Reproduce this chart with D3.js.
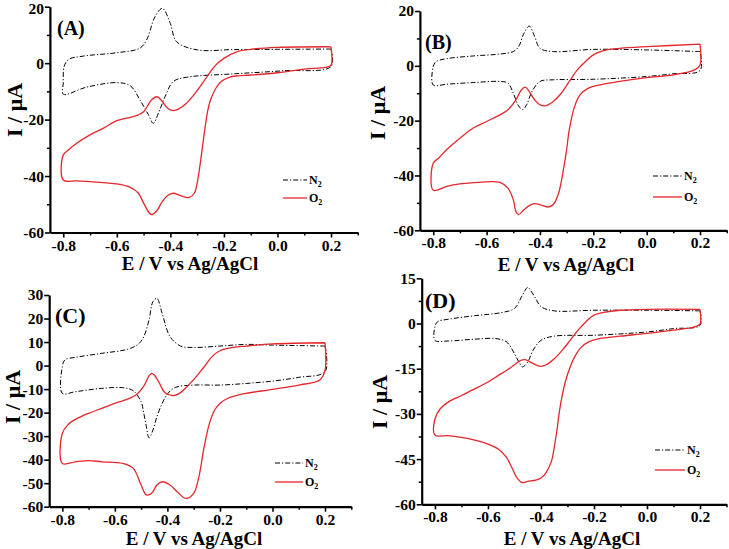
<!DOCTYPE html>
<html>
<head>
<meta charset="utf-8">
<script src="https://cdn.jsdelivr.net/npm/d3@7"></script>
<style>
  html, body { margin: 0; padding: 0; background: #fff; }
  svg { display: block; }
  text { font-family: "Liberation Serif", "Times New Roman", serif; font-weight: bold; fill: #000; }
</style>
</head>
<body>
<svg id="chart" width="729" height="549"></svg>
<script>
// ---------------- DATA ----------------
const xTicks = [-0.8, -0.6, -0.4, -0.2, 0.0, 0.2];
const xMinorTicks = [-0.7, -0.5, -0.3, -0.1, 0.1, 0.3];
const yTicksAB = [20, 0, -20, -40, -60];
const yMinorAB = [10, -10, -30, -50];
const yTicksC = [30, 20, 10, 0, -10, -20, -30, -40, -50, -60];
const yMinorC = [];
const yTicksD = [15, 0, -15, -30, -45, -60];
const yMinorD = [7.5, -7.5, -22.5, -37.5, -52.5];
const seriesNames = ["N2", "O2"];
const panelLabels = ["(A)", "(B)", "(C)", "(D)"];

// Panel A
const aN2 = [[0.2,5.0],[0.0,4.9],[-0.165,4.8],[-0.3,4.7],[-0.377,7.6],[-0.40,14],[-0.43,19.4],[-0.457,16.5],[-0.489,8.2],[-0.514,5.3],[-0.6,3.7],[-0.725,2.5],[-0.78,1.3],[-0.797,-1.2],[-0.8,-7],[-0.8,-11],
  [-0.713,-8.5],[-0.6,-6.9],[-0.55,-8],[-0.514,-13],[-0.482,-18.3],[-0.464,-21.3],[-0.445,-17.8],[-0.42,-11.9],[-0.389,-6.5],[-0.339,-5],[-0.165,-3.8],[0.022,-2.7],[0.2,-1.2],[0.2,5.0]];
const aO2 = [[0.2,5.8],[0.0,5.6],[-0.1,4.9],[-0.15,4.1],[-0.2,1.7],[-0.23,-0.6],[-0.25,-3],[-0.28,-7.1],[-0.31,-11],[-0.34,-14.2],[-0.37,-16.3],[-0.39,-16.8],[-0.41,-16],[-0.43,-13.6],[-0.45,-11.9],[-0.47,-13],[-0.5,-17.2],[-0.52,-18.3],[-0.55,-19.2],[-0.6,-20.4],[-0.65,-23],[-0.7,-25.4],[-0.75,-28.4],[-0.78,-30.7],[-0.8,-32.5],[-0.8,-41.4],
  [-0.75,-41.7],[-0.7,-42],[-0.6,-42.8],[-0.55,-44],[-0.52,-46],[-0.5,-49.6],[-0.48,-52.9],[-0.47,-53.7],[-0.45,-52.2],[-0.43,-49],[-0.41,-46.9],[-0.39,-46.1],[-0.36,-47],[-0.33,-47.6],[-0.31,-46],[-0.3,-42.5],[-0.29,-36.6],[-0.28,-29.5],[-0.27,-22.5],[-0.26,-16.6],[-0.25,-13],[-0.23,-8.9],[-0.21,-6.5],[-0.18,-5],[-0.15,-4.5],[-0.1,-4.2],[0.0,-3.4],[0.1,-2.1],[0.18,-1.5],[0.2,-0.7],[0.2,5.8]];

// Panel B
const bN2 = [[0.2,5.2],[0.0,5.8],[-0.2,6.0],[-0.35,5.2],[-0.4,6.4],[-0.42,10.7],[-0.44,14.5],[-0.46,11.9],[-0.48,7],[-0.5,5.2],[-0.55,4.3],[-0.65,3.6],[-0.75,2.6],[-0.79,1.5],[-0.8,-0.3],[-0.8,-7],
  [-0.75,-6.7],[-0.65,-6.1],[-0.55,-5.7],[-0.52,-6.3],[-0.5,-10],[-0.48,-14.6],[-0.465,-16],[-0.45,-14.2],[-0.43,-9.4],[-0.4,-5.7],[-0.35,-5.1],[-0.2,-4.9],[0.0,-3.9],[0.1,-2.9],[0.2,-1.7],[0.2,5.2]];
const bO2 = [[0.2,7.9],[0.0,7.0],[-0.1,6.4],[-0.15,5.8],[-0.2,4.0],[-0.23,1.5],[-0.26,-1.5],[-0.29,-5.7],[-0.32,-10],[-0.35,-13],[-0.38,-14.6],[-0.4,-14.2],[-0.42,-12.4],[-0.44,-9.4],[-0.455,-7.8],[-0.47,-8.8],[-0.49,-12.4],[-0.52,-16],[-0.55,-17.9],[-0.6,-20.3],[-0.65,-22.7],[-0.7,-26.4],[-0.75,-30.6],[-0.78,-33.7],[-0.8,-35.5],[-0.8,-45.4],
  [-0.75,-44],[-0.7,-43.1],[-0.6,-42.3],[-0.55,-42.5],[-0.52,-44.6],[-0.5,-48.8],[-0.49,-53.2],[-0.48,-54.3],[-0.46,-52.5],[-0.44,-51],[-0.42,-50.3],[-0.40,-50.6],[-0.37,-51.5],[-0.35,-50.6],[-0.33,-46.4],[-0.31,-36.7],[-0.3,-30.6],[-0.29,-23.3],[-0.27,-14.8],[-0.25,-10.6],[-0.22,-8.2],[-0.18,-7],[-0.1,-5.7],[0.0,-4.3],[0.1,-3.3],[0.18,-1.5],[0.2,0.3],[0.2,7.9]];

// Panel C
const cN2 = [[0.2,8.3],[0.0,8.7],[-0.1,9.0],[-0.2,8.3],[-0.3,7.7],[-0.35,8.3],[-0.39,12.3],[-0.42,22.2],[-0.44,28.6],[-0.455,27.2],[-0.47,19.4],[-0.49,12.3],[-0.51,9.2],[-0.55,7],[-0.65,5.2],[-0.75,3.5],[-0.79,2.4],[-0.8,-0.5],[-0.8,-11.8],
  [-0.75,-11.1],[-0.65,-9.7],[-0.57,-9.4],[-0.53,-10.7],[-0.5,-15.4],[-0.49,-20.3],[-0.48,-26],[-0.47,-30.7],[-0.455,-27.4],[-0.44,-21.7],[-0.42,-16.1],[-0.4,-12.1],[-0.37,-9.3],[-0.3,-8.3],[-0.2,-8.3],[-0.1,-7.6],[0.0,-6.6],[0.1,-5],[0.2,-2.6],[0.2,8.3]];
const cO2 = [[0.2,9.7],[0.0,9.2],[-0.1,8.3],[-0.15,7.7],[-0.2,6.3],[-0.23,3.8],[-0.26,-0.5],[-0.29,-4.7],[-0.32,-8.3],[-0.35,-11.5],[-0.38,-12.8],[-0.41,-11.5],[-0.43,-7.6],[-0.45,-4],[-0.46,-3.3],[-0.47,-4.4],[-0.49,-8.7],[-0.52,-12.5],[-0.56,-14.6],[-0.6,-16.1],[-0.65,-18.2],[-0.7,-20.3],[-0.75,-22.9],[-0.78,-25.3],[-0.8,-28.8],[-0.8,-41.6],
  [-0.75,-40.9],[-0.7,-40.4],[-0.65,-40.9],[-0.57,-41.6],[-0.53,-43.7],[-0.5,-50.8],[-0.48,-55],[-0.46,-54.3],[-0.44,-50.8],[-0.42,-49.4],[-0.39,-50.8],[-0.36,-54],[-0.33,-56.5],[-0.3,-54.3],[-0.28,-47.2],[-0.26,-34.5],[-0.24,-24.6],[-0.22,-18.9],[-0.2,-16.1],[-0.17,-13.9],[-0.13,-12.5],[-0.1,-11.8],[0.0,-10.1],[0.1,-8.3],[0.18,-6.1],[0.2,-1.9],[0.2,9.7]];

// Panel D
const dN2 = [[0.2,4.2],[0.0,4.4],[-0.2,4.4],[-0.35,4.2],[-0.4,5.6],[-0.42,8.3],[-0.44,11.1],[-0.45,12],[-0.47,9.4],[-0.5,5],[-0.55,3.6],[-0.65,2.6],[-0.75,1.4],[-0.79,0.6],[-0.8,-1.1],[-0.8,-5.6],
  [-0.75,-5.8],[-0.65,-5.2],[-0.57,-5],[-0.53,-6.1],[-0.5,-10],[-0.48,-13.3],[-0.47,-14.4],[-0.45,-12.8],[-0.43,-8.9],[-0.4,-5.6],[-0.35,-4.2],[-0.2,-3.9],[0.0,-2.8],[0.1,-1.7],[0.2,-0.6],[0.2,4.2]];
const dO2 = [[0.2,4.7],[0.0,4.7],[-0.1,4.4],[-0.15,3.9],[-0.2,2.8],[-0.23,0.6],[-0.26,-2.2],[-0.29,-5.6],[-0.32,-8.9],[-0.35,-11.7],[-0.38,-13.7],[-0.4,-14.2],[-0.42,-13.7],[-0.44,-12.8],[-0.46,-12],[-0.48,-12.4],[-0.5,-13.7],[-0.53,-15.6],[-0.56,-17.2],[-0.6,-19.4],[-0.65,-21.7],[-0.7,-23.9],[-0.75,-26.1],[-0.78,-28.3],[-0.8,-31.7],[-0.8,-37],
  [-0.75,-37.2],[-0.7,-37.8],[-0.65,-38.7],[-0.6,-40],[-0.56,-41.7],[-0.53,-44.4],[-0.51,-47.8],[-0.49,-51.3],[-0.47,-52.8],[-0.45,-52.4],[-0.42,-52],[-0.4,-51.3],[-0.38,-49.4],[-0.36,-45.6],[-0.35,-41.1],[-0.34,-35.6],[-0.33,-28.9],[-0.31,-20],[-0.29,-14.4],[-0.27,-10.6],[-0.25,-8],[-0.22,-6.1],[-0.18,-5],[-0.1,-4.2],[0.0,-3.3],[0.1,-2.2],[0.18,-1.1],[0.2,-0.2],[0.2,4.7]];

// ---------------- LAYOUT ----------------
const panels = [
  { label: panelLabels[0], n2: aN2, o2: aO2, yDom: [-60, 20], yT: yTicksAB, yM: yMinorAB,
    xr: [49.9, 357.8], yr: [232.5, 6.7], lab: [57, 35, 18], yTitle: [15, 110], xTitle: [190, 270],
    leg: [283, 307, 180, 198] },
  { label: panelLabels[1], n2: bN2, o2: bO2, yDom: [-60, 20], yT: yTicksAB, yM: yMinorAB,
    xr: [419.9, 726.7], yr: [230.3, 11], lab: [425, 49, 18], yTitle: [378, 113], xTitle: [566, 271],
    leg: [653, 682, 176, 197] },
  { label: panelLabels[2], n2: cN2, o2: cO2, yDom: [-60, 30], yT: yTicksC, yM: yMinorC,
    xr: [49.2, 351.3], yr: [506.7, 295], lab: [55, 323, 20], yTitle: [13, 397], xTitle: [194, 545],
    leg: [275, 303, 463, 482] },
  { label: panelLabels[3], n2: dN2, o2: dO2, yDom: [-60, 15], yT: yTicksD, yM: yMinorD,
    xr: [421.7, 726.5], yr: [504.3, 278.3], lab: [425, 308, 20], yTitle: [380, 402], xTitle: [572, 545],
    leg: [655, 685, 450, 470] }
];

const RED = "#e5262b";
const svg = d3.select("#chart");
const fmtX = d => d.toFixed(1);
const fmtY = d => String(d);

panels.forEach(p => {
  const x = d3.scaleLinear().domain([-0.85, 0.3]).range(p.xr);
  const y = d3.scaleLinear().domain(p.yDom).range(p.yr);
  const g = svg.append("g");
  const y0 = p.yr[0], x0 = p.xr[0];

  // minor ticks
  g.append("g").attr("transform", `translate(0,${y0})`)
    .call(d3.axisBottom(x).tickValues(xMinorTicks).tickSize(3).tickSizeOuter(0).tickFormat(""))
    .call(s => s.select(".domain").remove())
    .call(s => s.selectAll("line").attr("stroke-width", 1.5));
  g.append("g").attr("transform", `translate(${x0},0)`)
    .call(d3.axisLeft(y).tickValues(p.yM).tickSize(3).tickSizeOuter(0).tickFormat(""))
    .call(s => s.select(".domain").remove())
    .call(s => s.selectAll("line").attr("stroke-width", 1.5));

  // major axes
  const xa = g.append("g").attr("transform", `translate(0,${y0})`)
    .call(d3.axisBottom(x).tickValues(xTicks).tickSize(5).tickSizeOuter(0).tickPadding(2).tickFormat(fmtX));
  const ya = g.append("g").attr("transform", `translate(${x0},0)`)
    .call(d3.axisLeft(y).tickValues(p.yT).tickSize(5).tickSizeOuter(0).tickPadding(1).tickFormat(fmtY));
  [xa, ya].forEach(a => {
    a.select(".domain").attr("stroke-width", 2.2).attr("stroke", "#000");
    a.selectAll(".tick line").attr("stroke-width", 1.6).attr("stroke", "#000");
    a.selectAll(".tick text").attr("font-family", "Liberation Serif, serif")
      .attr("font-weight", "bold").attr("font-size", 15.5).attr("fill", "#000");
  });
  // keep a top tick label inside the picture
  ya.selectAll(".tick").filter(d => y(d) < 10).select("text").attr("dy", "0.45em");

  // curves
  const line = d3.line().x(d => x(d[0])).y(d => y(d[1])).curve(d3.curveCatmullRom.alpha(0.5));
  g.append("path").datum(p.n2).attr("d", line).attr("fill", "none")
    .attr("stroke", "#000").attr("stroke-width", 1).attr("stroke-dasharray", "5,2,1.2,2");
  g.append("path").datum(p.o2).attr("d", line).attr("fill", "none")
    .attr("stroke", RED).attr("stroke-width", 1.3);

  // panel label
  g.append("text").attr("x", p.lab[0]).attr("y", p.lab[1]).attr("font-size", p.lab[2] + 2).text(p.label);

  // axis titles
  g.append("text").attr("x", p.xTitle[0]).attr("y", p.xTitle[1]).attr("text-anchor", "middle")
    .attr("font-size", 19).text("E / V vs Ag/AgCl");
  g.append("text").attr("transform", `translate(${p.yTitle[0] + 7},${p.yTitle[1]}) rotate(-90)`)
    .attr("text-anchor", "middle").attr("font-size", 22).text("I / μA");

  // legend
  const L = p.leg;
  g.append("line").attr("x1", L[0]).attr("x2", L[1]).attr("y1", L[2]).attr("y2", L[2])
    .attr("stroke", "#000").attr("stroke-width", 1).attr("stroke-dasharray", "5,2,1.2,2");
  g.append("line").attr("x1", L[0]).attr("x2", L[1]).attr("y1", L[3]).attr("y2", L[3])
    .attr("stroke", RED).attr("stroke-width", 1.3);
  [[seriesNames[0], L[2]], [seriesNames[1], L[3]]].forEach(([nm, yy]) => {
    const t = g.append("text").attr("x", L[1] + 2).attr("y", yy + 4).attr("font-size", 12);
    t.append("tspan").text(nm[0]);
    t.append("tspan").attr("font-size", 8).attr("dy", 3).text(nm.slice(1));
  });
});
</script>
</body>
</html>
